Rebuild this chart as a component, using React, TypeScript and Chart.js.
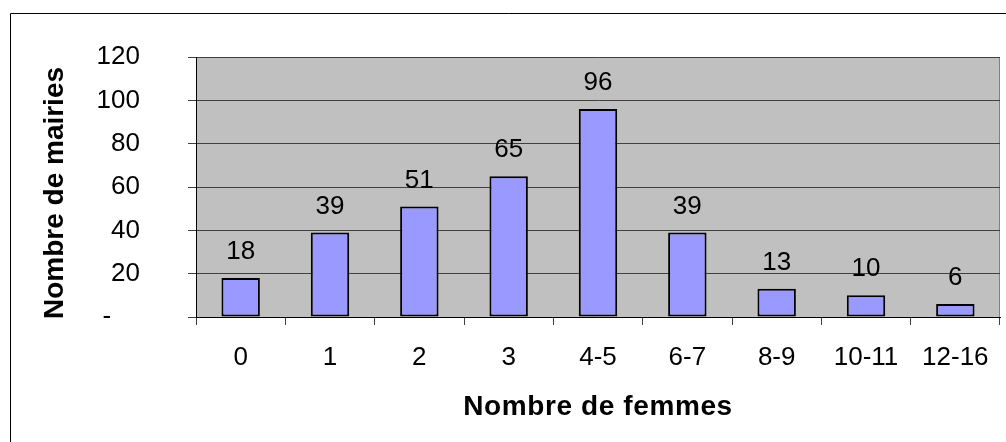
import React, { useEffect, useRef } from "react";
import { Chart, registerables } from "chart.js";

Chart.register(...registerables);

const categories: string[] = ["0", "1", "2", "3", "4-5", "6-7", "8-9", "10-11", "12-16"];
const mairies: number[] = [18, 39, 51, 65, 96, 39, 13, 10, 6];
const yTicks: number[] = [0, 20, 40, 60, 80, 100, 120];
const xTitle = "Nombre de femmes";
const yTitle = "Nombre de mairies";

const FONT = "'Liberation Sans', Arial, sans-serif";

const framePlugin = {
  id: "frame",
  beforeDraw(chart: any) {
    const { ctx, chartArea } = chart;
    ctx.save();
    ctx.fillStyle = "#ffffff";
    ctx.fillRect(0, 0, chart.width, chart.height);
    ctx.strokeStyle = "#000000";
    ctx.lineWidth = 1;
    ctx.beginPath();
    ctx.moveTo(10.5, chart.height + 5);
    ctx.lineTo(10.5, 13.5);
    ctx.lineTo(chart.width + 5, 13.5);
    ctx.stroke();
    ctx.fillStyle = "#c0c0c0";
    ctx.fillRect(chartArea.left, chartArea.top, chartArea.right - chartArea.left, chartArea.bottom - chartArea.top);
    ctx.strokeStyle = "#808080";
    ctx.strokeRect(chartArea.left + 0.5, chartArea.top + 0.5, chartArea.right - chartArea.left - 1, chartArea.bottom - chartArea.top);
    ctx.restore();
  },
  afterDatasetsDraw(chart: any) {
    const { ctx } = chart;
    const meta = chart.getDatasetMeta(0);
    ctx.save();
    ctx.font = `26px ${FONT}`;
    ctx.fillStyle = "#000000";
    ctx.textAlign = "center";
    ctx.textBaseline = "alphabetic";
    meta.data.forEach((bar: any, i: number) => {
      ctx.fillText(String(mairies[i]), bar.x, bar.y - 19);
    });
    ctx.restore();
  },
  afterDraw(chart: any) {
    const { ctx, chartArea } = chart;
    ctx.save();
    ctx.fillStyle = "#000000";
    ctx.font = `bold 28px ${FONT}`;
    ctx.textAlign = "center";
    ctx.textBaseline = "alphabetic";
    (ctx as any).letterSpacing = "0.6px";
    ctx.fillText(xTitle, (chartArea.left + chartArea.right) / 2, 415);
    (ctx as any).letterSpacing = "0px";
    ctx.translate(63, 193);
    ctx.rotate(-Math.PI / 2);
    ctx.fillText(yTitle, 0, 0);
    ctx.restore();
  },
};

export default function App() {
  const ref = useRef<HTMLCanvasElement | null>(null);
  useEffect(() => {
    if (!ref.current) return;
    const chart = new Chart(ref.current, {
      type: "bar",
      data: {
        labels: categories,
        datasets: [
          {
            data: mairies,
            backgroundColor: "#9999ff",
            borderColor: "#000000",
            borderWidth: 2,
            borderSkipped: false,
            barPercentage: 0.43,
            categoryPercentage: 1,
          },
        ],
      },
      options: {
        animation: false,
        responsive: false,
        layout: { padding: { top: 57, right: 6, left: 0, bottom: 0 } },
        plugins: { legend: { display: false }, tooltip: { enabled: false }, title: { display: false } },
        scales: {
          x: {
            grid: {
              offset: true,
              drawOnChartArea: false,
              drawTicks: true,
              tickLength: 8,
              color: "#404040",
            },
            border: { display: true, color: "#000000", width: 1 },
            ticks: {
              font: { family: FONT, size: 26 },
              color: "#000000",
              padding: 17,
              maxRotation: 0,
              autoSkip: false,
            },
            afterFit(scale: any) {
              scale.height = 125;
              scale.paddingLeft = 0;
              scale.paddingRight = 0;
            },
          },
          y: {
            min: 0,
            max: 120,
            afterBuildTicks(scale: any) {
              scale.ticks = yTicks.map((v) => ({ value: v }));
            },
            grid: {
              drawTicks: true,
              tickLength: 8,
              color: "#404040",
            },
            border: { display: true, color: "#000000", width: 1 },
            ticks: {
              font: { family: FONT, size: 26 },
              color: "#000000",
              padding: 48,
              callback: (v: any) => (Number(v) === 0 ? "-\u00A0\u00A0\u00A0\u00A0" : String(v)),
            },
            afterFit(scale: any) {
              scale.width = 196;
              scale.paddingTop = 0;
              scale.paddingBottom = 0;
            },
          },
        },
      },
      plugins: [framePlugin],
    });
    return () => chart.destroy();
  }, []);
  return (
    <div style={{ position: "fixed", left: 0, top: 0, width: 1006, height: 442, background: "#fff" }}>
      <canvas ref={ref} width={1006} height={442} style={{ display: "block" }} />
    </div>
  );
}
